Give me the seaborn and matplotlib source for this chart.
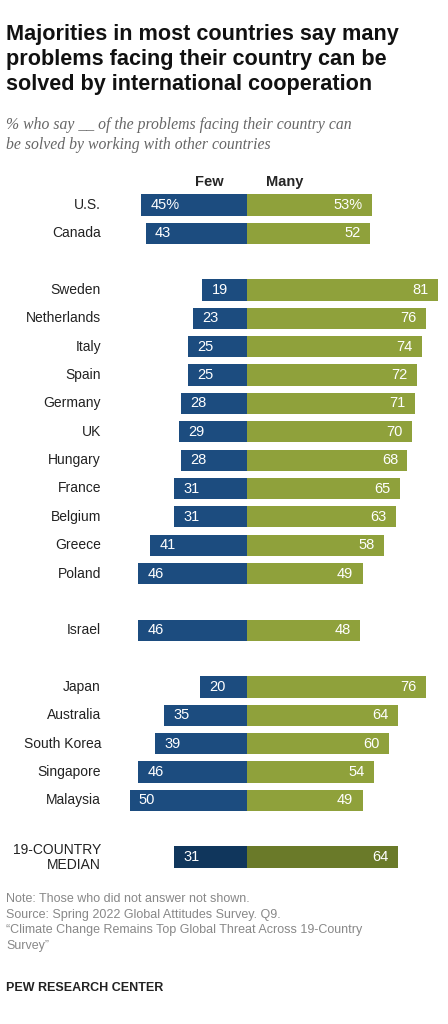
import matplotlib
matplotlib.use("Agg")
import matplotlib.pyplot as plt
import seaborn as sns
import pandas as pd

countries = ["U.S.", "Canada", "Sweden", "Netherlands", "Italy", "Spain", "Germany", "UK",
             "Hungary", "France", "Belgium", "Greece", "Poland", "Israel", "Japan", "Australia",
             "South Korea", "Singapore", "Malaysia", "19-COUNTRY\nMEDIAN"]
few = [45, 43, 19, 23, 25, 25, 28, 29, 28, 31, 31, 41, 46, 46, 20, 35, 39, 46, 50, 31]
many = [53, 52, 81, 76, 74, 72, 71, 70, 68, 65, 63, 58, 49, 48, 76, 64, 60, 54, 49, 64]
slots = [0, 1, 3, 4, 5, 6, 7, 8, 9, 10, 11, 12, 13, 15, 17, 18, 19, 20, 21, 23]

sns.set_theme(style="white")
plt.rcParams['font.family'] = ['Liberation Sans', 'DejaVu Sans']

W, H = 448, 1024
fig = plt.figure(figsize=(W/100, H/100), dpi=100)
L, R, T, B = 130, 445, 190, 875
ax = fig.add_axes([L/W, 1-B/H, (R-L)/W, (B-T)/H])
ppu = 2.36
ax.set_xlim(-(247-L)/ppu, (R-247)/ppu)
d = 28.35

df = pd.DataFrame({"c": countries, "few": [-v for v in few], "many": many, "pos": slots})
n = len(df)
fc = ["#1c4c7f"]*(n-1) + ["#10365c"]
mc = ["#8fa13b"]*(n-1) + ["#6a7a29"]
sns.barplot(data=df, x="few", y="pos", orient="h", native_scale=True, width=0.75,
            palette=fc, hue="pos", legend=False, ax=ax, saturation=1, linewidth=0)
sns.barplot(data=df, x="many", y="pos", orient="h", native_scale=True, width=0.75,
            palette=mc, hue="pos", legend=False, ax=ax, saturation=1, linewidth=0)
ax.set_ylim((B-205)/d, -(205-T)/d)
ax.axis("off")

for i, (c, f, m, p) in enumerate(zip(countries, few, many, slots)):
    sfx = "%" if i == 0 else ""
    ax.text(-f + 4, p, f"{f}{sfx}", color="white", va="center", ha="left", fontsize=10.5)
    ax.text(m - 4, p, f"{m}{sfx}", color="white", va="center", ha="right", fontsize=10.5)
    fig.text(101/W, 1-(205 + p*d)/H, c, ha="right", va="center", fontsize=10,
             color="#222222", linespacing=1.1)

ax.text(-16, -0.8, "Few", ha="center", va="center", fontsize=10.5, fontweight="bold")
ax.text(16, -0.8, "Many", ha="center", va="center", fontsize=10.5, fontweight="bold")

fig.text(6/W, 1-24/H, "Majorities in most countries say many\nproblems facing their country can be\nsolved by international cooperation",
         ha="left", va="top", fontsize=15.6, fontweight="bold", color="#111111", linespacing=1.25)
fig.text(6/W, 1-117/H, "% who say __ of the problems facing their country can\nbe solved by working with other countries",
         ha="left", va="top", fontsize=11.3, style="italic", color="#666666",
         family=["Liberation Serif", "DejaVu Serif"], linespacing=1.3)
fig.text(6/W, 1-893/H, "Note: Those who did not answer not shown.\nSource: Spring 2022 Global Attitudes Survey. Q9.\n\u201cClimate Change Remains Top Global Threat Across 19-Country\nSurvey\u201d",
         ha="left", va="top", fontsize=9, color="#888888", linespacing=1.4)
fig.text(6/W, 1-982/H, "PEW RESEARCH CENTER", ha="left", va="top", fontsize=9,
         fontweight="bold", color="#222222")

fig.savefig("out.png", dpi=100)
